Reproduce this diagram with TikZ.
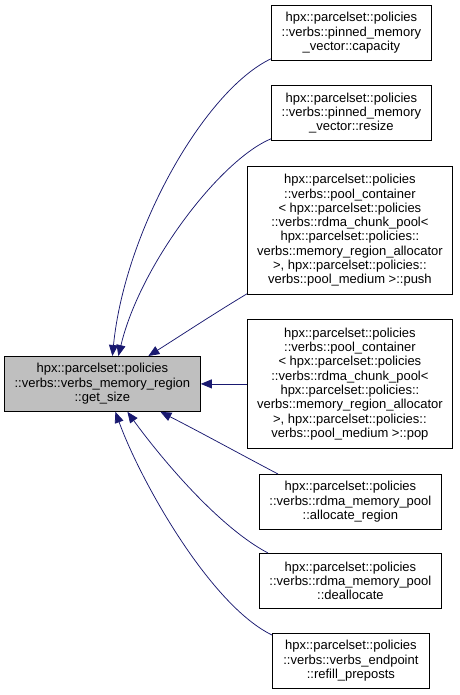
\documentclass[tikz,border=0pt]{standalone}
\usepackage{fontspec}
\setmainfont{Liberation Sans}
\usetikzlibrary{arrows.meta}
\definecolor{edgecol}{HTML}{191970}
\definecolor{mainfill}{HTML}{BFBFBF}
\tikzset{
  box/.style={draw=black, line width=0.8pt, rectangle, align=center, anchor=north west,
    inner sep=0pt, font=\fontsize{13}{14.3}\selectfont},
  edge/.style={draw=edgecol, line width=0.75pt, -{Triangle[length=11pt,width=9pt]}},
}
\begin{document}
\begin{tikzpicture}[x=1pt,y=-1pt]
\useasboundingbox (0,0) rectangle (459,695);
\node[box, fill=mainfill, minimum width=196pt, minimum height=55pt] (main) at (4,356)
  {hpx::parcelset::policies\\::verbs::verbs\_memory\_region\\::get\_size};
\node[box, minimum width=160pt, minimum height=55pt] (cap) at (271,5)
  {hpx::parcelset::policies\\::verbs::pinned\_memory\\\_vector::capacity};
\node[box, minimum width=160pt, minimum height=55pt] (res) at (271,85)
  {hpx::parcelset::policies\\::verbs::pinned\_memory\\\_vector::resize};
\node[box, minimum width=205pt, minimum height=128pt] (push) at (247,166)
  {hpx::parcelset::policies\\::verbs::pool\_container\\{<} hpx::parcelset::policies\\::verbs::rdma\_chunk\_pool{<}\\hpx::parcelset::policies::\\verbs::memory\_region\_allocator\\{>}, hpx::parcelset::policies::\\verbs::pool\_medium {>}::push};
\node[box, minimum width=205pt, minimum height=129pt] (pop) at (247,319)
  {hpx::parcelset::policies\\::verbs::pool\_container\\{<} hpx::parcelset::policies\\::verbs::rdma\_chunk\_pool{<}\\hpx::parcelset::policies::\\verbs::memory\_region\_allocator\\{>}, hpx::parcelset::policies::\\verbs::pool\_medium {>}::pop};
\node[box, minimum width=182pt, minimum height=55pt] (alloc) at (259,474)
  {hpx::parcelset::policies\\::verbs::rdma\_memory\_pool\\::allocate\_region};
\node[box, minimum width=182pt, minimum height=55pt] (dealloc) at (259,553)
  {hpx::parcelset::policies\\::verbs::rdma\_memory\_pool\\::deallocate};
\node[box, minimum width=157pt, minimum height=55pt] (refill) at (272,633)
  {hpx::parcelset::policies\\::verbs::verbs\_endpoint\\::refill\_preposts};

\draw[edge] ([yshift=2pt]cap.south west) .. controls (205,90) and (125,230) .. ([xshift=10pt]main.north);
\draw[edge] ([yshift=2pt]res.south west) .. controls (220,160) and (140,265) .. ([xshift=16pt]main.north);
\draw[edge] ([yshift=1pt]push.south west) .. controls (215,313) and (180,336) .. ([xshift=46pt]main.north);
\draw[edge] (pop.west |- main.east) -- (main.east);
\draw[edge] ([xshift=19pt]alloc.north west) .. controls (240,454) and (200,432) .. ([xshift=58pt]main.south);
\draw[edge] ([xshift=9pt]dealloc.north west) .. controls (215,525) and (155,450) .. ([xshift=25pt]main.south);
\draw[edge] ([yshift=-2pt]refill.north west) .. controls (210,605) and (140,480) .. ([xshift=13pt]main.south);
\end{tikzpicture}
\end{document}
